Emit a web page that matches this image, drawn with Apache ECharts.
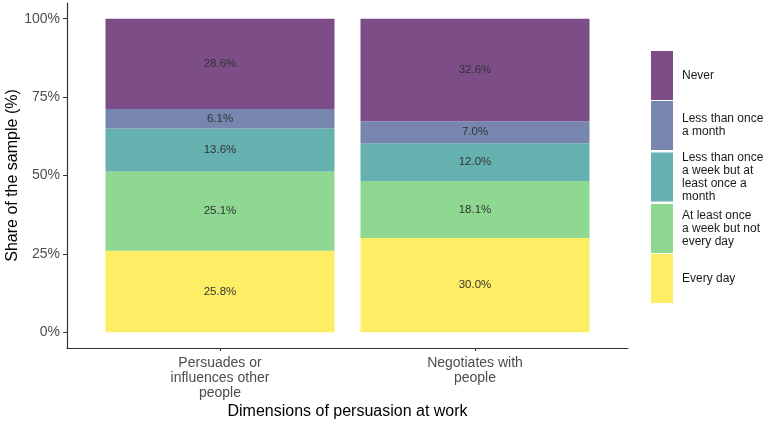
<!DOCTYPE html>
<html>
<head>
<meta charset="utf-8">
<script src="https://cdn.jsdelivr.net/npm/echarts@6/dist/echarts.min.js"></script>
<style>html,body{margin:0;padding:0;background:#fff;}#c{width:767px;height:423px;}</style>
</head>
<body>
<div id="c"></div>
<script>
const categories = ['Persuades or\ninfluences other\npeople', 'Negotiates with\npeople'];
const catPositions = [1, 2];
const seriesNames = ['Every day', 'At least once a week but not every day', 'Less than once a week but at least once a month', 'Less than once a month', 'Never'];
const legendLabels = ['Every day', 'At least once\na week but not\nevery day', 'Less than once\na week but at\nleast once a\nmonth', 'Less than once\na month', 'Never'];
const everyDay = [25.8, 30.0];
const weeklyNotDaily = [25.1, 18.1];
const lessWeekly = [13.6, 12.0];
const lessMonthly = [6.1, 7.0];
const never = [28.6, 32.6];
const yTicks = [0, 25, 50, 75, 100];
const colors = ['#FEEE66', '#8ED892', '#64B1AF', '#7686AE', '#7C4D87'];

const allSeries = [everyDay, weeklyNotDaily, lessWeekly, lessMonthly, never];
const totals = catPositions.map((_, i) => allSeries.reduce((s, arr) => s + arr[i], 0));
const FONT = 'Liberation Sans, Arial, sans-serif';

const chart = echarts.init(document.getElementById('c'), null, {renderer: 'canvas'});
chart.setOption({
  animation: false,
  textStyle: {fontFamily: FONT},
  grid: {left: 67, right: 139, top: 3, bottom: 75, containLabel: false, outerBoundsMode: 'none'},
  xAxis: {
    type: 'value', min: 0.4, max: 2.6,
    name: 'Dimensions of persuasion at work', nameLocation: 'middle', nameGap: 56, nameMoveOverlap: false,
    nameTextStyle: {fontSize: 16, color: '#000', fontFamily: FONT},
    axisLine: {show: true, onZero: false, lineStyle: {color: '#333', width: 1.2}},
    axisTick: {show: true, customValues: catPositions, length: 3, lineStyle: {color: '#333'}},
    axisLabel: {customValues: catPositions, formatter: v => categories[Math.round(v) - 1] || '',
      fontSize: 14, lineHeight: 15, color: '#4D4D4D', margin: 8, fontFamily: FONT},
    splitLine: {show: false}
  },
  yAxis: {
    type: 'value', min: -5, max: 105,
    name: 'Share of the sample (%)', nameLocation: 'middle', nameGap: 46, nameMoveOverlap: false,
    nameTextStyle: {fontSize: 16, color: '#000', fontFamily: FONT},
    axisLine: {show: true, onZero: false, lineStyle: {color: '#333', width: 1.2}},
    axisTick: {show: true, customValues: yTicks, length: 4, lineStyle: {color: '#333'}},
    axisLabel: {customValues: yTicks, formatter: v => v + '%', fontSize: 14, color: '#4D4D4D', margin: 7, fontFamily: FONT},
    splitLine: {show: false}
  },
  legend: {
    orient: 'vertical', left: 651, top: 51, padding: 0,
    itemWidth: 22, itemHeight: 49, itemGap: 1, icon: 'rect',
    data: seriesNames.slice().reverse(),
    formatter: name => legendLabels[seriesNames.indexOf(name)],
    textStyle: {fontSize: 12, lineHeight: 13, color: '#1a1a1a', padding: [0, 0, 0, 4], fontFamily: FONT},
    selectedMode: false
  },
  series: allSeries.map((arr, k) => ({
    type: 'bar', name: seriesNames[k], stack: 'total', barWidth: 229,
    encode: {x: 1, y: 0},
    itemStyle: {color: colors[k]},
    label: {show: true, position: 'inside', fontSize: 11.5, color: '#333', fontFamily: FONT,
      formatter: p => p.data.raw.toFixed(1) + '%'},
    data: arr.map((v, i) => ({value: [v / totals[i] * 100, catPositions[i]], raw: v}))
  }))
});
</script>
</body>
</html>
